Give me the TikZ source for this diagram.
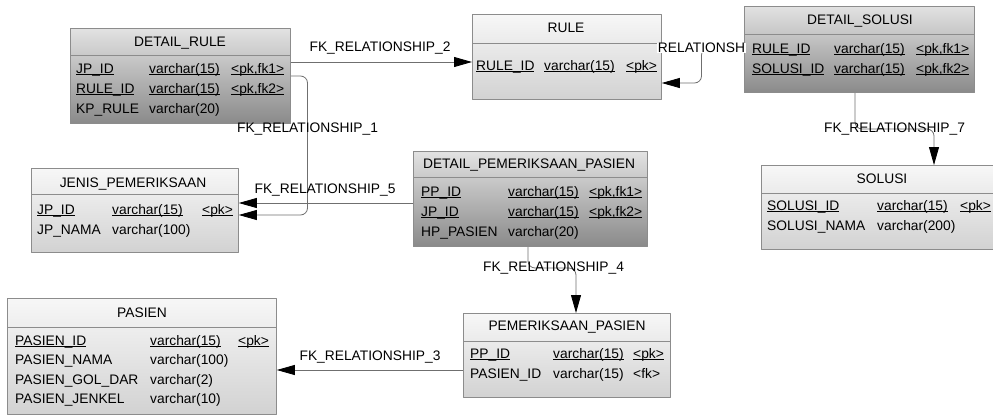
\documentclass[tikz,border=0pt]{standalone}
\usepackage{fontspec}
\setmainfont{Liberation Sans}
\usetikzlibrary{arrows.meta,calc,backgrounds}
\definecolor{boxline}{HTML}{8C8C8C}
\definecolor{ltop}{HTML}{F7F7F7}
\definecolor{lbot}{HTML}{D2D2D2}
\definecolor{dtop}{HTML}{E2E2E2}
\definecolor{dbot}{HTML}{8A8A8A}
\definecolor{linec}{HTML}{6F6F6F}
\newcommand\ulk[1]{\underline{\smash{#1}}}

\begin{document}
\begin{tikzpicture}[x=1pt,y=-1pt,line join=round,
  font=\fontsize{13.8}{16}\selectfont,
  tbl/.style={draw=boxline,line width=0.8pt,top color=ltop,bottom color=lbot,anchor=north west,inner sep=0pt},
  dtbl/.style={tbl,top color=dtop,bottom color=dbot},
  sepline/.style={draw=boxline,line width=0.8pt},
  ttl/.style={anchor=base,inner sep=0pt},
  fld/.style={anchor=base west,inner sep=0pt},
  lbl/.style={inner sep=0pt},
  fk/.style={draw=linec,line width=0.8pt,rounded corners=7pt,-{Triangle[length=18pt,width=10pt,color=black]}}]
\useasboundingbox (0,0) rectangle (993,415);
\clip (0,0) rectangle (993,415);

% DETAIL_RULE
\node[dtbl,minimum width=220pt,minimum height=95pt] (drule) at (70,28) {};
\draw[sepline] ($(drule.north west)+(0,27)$) -- ($(drule.north east)+(0,27)$);
\node[ttl] (drule-t) at (180,46) {DETAIL\_RULE};
\node[fld] (drule-n1) at (76,73) {\ulk{JP\_ID}};
\node[fld] (drule-y1) at (149,73) {\ulk{varchar(15)}};
\node[fld] (drule-k1) at (231,73) {\ulk{<pk,fk1>}};
\node[fld] (drule-n2) at (76,93) {\ulk{RULE\_ID}};
\node[fld] (drule-y2) at (149,93) {\ulk{varchar(15)}};
\node[fld] (drule-k2) at (231,93) {\ulk{<pk,fk2>}};
\node[fld] (drule-n3) at (76,113) {KP\_RULE};
\node[fld] (drule-y3) at (149,113) {varchar(20)};

% RULE
\node[tbl,minimum width=189pt,minimum height=85pt] (rule) at (472,14) {};
\draw[sepline] ($(rule.north west)+(0,29)$) -- ($(rule.north east)+(0,29)$);
\node[ttl] (rule-t) at (566,32) {RULE};
\node[fld] (rule-n1) at (476,70) {\ulk{RULE\_ID}};
\node[fld] (rule-y1) at (544,70) {\ulk{varchar(15)}};
\node[fld] (rule-k1) at (626,70) {\ulk{<pk>}};

% DETAIL_SOLUSI
\node[dtbl,minimum width=230pt,minimum height=86pt] (dsol) at (744,6) {};
\draw[sepline] ($(dsol.north west)+(0,28)$) -- ($(dsol.north east)+(0,28)$);
\node[ttl] (dsol-t) at (860,24) {DETAIL\_SOLUSI};
\node[fld] (dsol-n1) at (752,53) {\ulk{RULE\_ID}};
\node[fld] (dsol-y1) at (834,53) {\ulk{varchar(15)}};
\node[fld] (dsol-k1) at (916,53) {\ulk{<pk,fk1>}};
\node[fld] (dsol-n2) at (752,73) {\ulk{SOLUSI\_ID}};
\node[fld] (dsol-y2) at (834,73) {\ulk{varchar(15)}};
\node[fld] (dsol-k2) at (916,73) {\ulk{<pk,fk2>}};

% JENIS_PEMERIKSAAN
\node[tbl,minimum width=207pt,minimum height=84pt] (jenis) at (31,168) {};
\draw[sepline] ($(jenis.north west)+(0,26)$) -- ($(jenis.north east)+(0,26)$);
\node[ttl] (jenis-t) at (133,187) {JENIS\_PEMERIKSAAN};
\node[fld] (jenis-n1) at (37,214) {\ulk{JP\_ID}};
\node[fld] (jenis-y1) at (112,214) {\ulk{varchar(15)}};
\node[fld] (jenis-k1) at (202,214) {\ulk{<pk>}};
\node[fld] (jenis-n2) at (37,234) {JP\_NAMA};
\node[fld] (jenis-y2) at (112,234) {varchar(100)};

% DETAIL_PEMERIKSAAN_PASIEN
\node[dtbl,minimum width=234pt,minimum height=95pt] (dpp) at (413,151) {};
\draw[sepline] ($(dpp.north west)+(0,26)$) -- ($(dpp.north east)+(0,26)$);
\node[ttl] (dpp-t) at (529,168) {DETAIL\_PEMERIKSAAN\_PASIEN};
\node[fld] (dpp-n1) at (421,196) {\ulk{PP\_ID}};
\node[fld] (dpp-y1) at (508,196) {\ulk{varchar(15)}};
\node[fld] (dpp-k1) at (589,196) {\ulk{<pk,fk1>}};
\node[fld] (dpp-n2) at (421,216) {\ulk{JP\_ID}};
\node[fld] (dpp-y2) at (508,216) {\ulk{varchar(15)}};
\node[fld] (dpp-k2) at (589,216) {\ulk{<pk,fk2>}};
\node[fld] (dpp-n3) at (421,236) {HP\_PASIEN};
\node[fld] (dpp-y3) at (508,236) {varchar(20)};

% SOLUSI
\node[tbl,minimum width=242pt,minimum height=84pt] (solusi) at (761,165) {};
\draw[sepline] ($(solusi.north west)+(0,28)$) -- ($(solusi.north east)+(0,28)$);
\node[ttl] (solusi-t) at (882,183) {SOLUSI};
\node[fld] (solusi-n1) at (767,210) {\ulk{SOLUSI\_ID}};
\node[fld] (solusi-y1) at (877,210) {\ulk{varchar(15)}};
\node[fld] (solusi-k1) at (960,210) {\ulk{<pk>}};
\node[fld] (solusi-n2) at (767,230) {SOLUSI\_NAMA};
\node[fld] (solusi-y2) at (877,230) {varchar(200)};

% PASIEN
\node[tbl,minimum width=269pt,minimum height=116pt] (pasien) at (7,298) {};
\draw[sepline] ($(pasien.north west)+(0,29)$) -- ($(pasien.north east)+(0,29)$);
\node[ttl] (pasien-t) at (142,317) {PASIEN};
\node[fld] (pasien-n1) at (15,345) {\ulk{PASIEN\_ID}};
\node[fld] (pasien-y1) at (150,345) {\ulk{varchar(15)}};
\node[fld] (pasien-k1) at (238,345) {\ulk{<pk>}};
\node[fld] (pasien-n2) at (15,364) {PASIEN\_NAMA};
\node[fld] (pasien-y2) at (150,364) {varchar(100)};
\node[fld] (pasien-n3) at (15,384) {PASIEN\_GOL\_DAR};
\node[fld] (pasien-y3) at (150,384) {varchar(2)};
\node[fld] (pasien-n4) at (15,403) {PASIEN\_JENKEL};
\node[fld] (pasien-y4) at (150,403) {varchar(10)};

% PEMERIKSAAN_PASIEN
\node[tbl,minimum width=207pt,minimum height=84pt] (pp) at (463,313) {};
\draw[sepline] ($(pp.north west)+(0,28)$) -- ($(pp.north east)+(0,28)$);
\node[ttl] (pp-t) at (567,330) {PEMERIKSAAN\_PASIEN};
\node[fld] (pp-n1) at (470,358) {\ulk{PP\_ID}};
\node[fld] (pp-y1) at (553,358) {\ulk{varchar(15)}};
\node[fld] (pp-k1) at (633,358) {\ulk{<pk>}};
\node[fld] (pp-n2) at (470,378) {PASIEN\_ID};
\node[fld] (pp-y2) at (553,378) {varchar(15)};
\node[fld] (pp-k2) at (633,378) {<fk>};

% relationship labels
\node[lbl] (lbl2) at (380,48) {FK\_RELATIONSHIP\_2};
\node[lbl] (lbl1) at (307.5,129) {FK\_RELATIONSHIP\_1};
\node[lbl] (lbl5) at (325,190) {FK\_RELATIONSHIP\_5};
\node[lbl,fill=white,inner sep=0.5pt] (lbl6) at (701.5,48) {RELATIONSH};
\node[lbl] (lbl7) at (894.5,129) {FK\_RELATIONSHIP\_7};
\node[lbl] (lbl4) at (553.5,268) {FK\_RELATIONSHIP\_4};
\node[lbl] (lbl3) at (370,357) {FK\_RELATIONSHIP\_3};

% references
\begin{pgfonlayer}{background}
\draw[fk] ($(drule.north east)+(0,34)$) -- ($(rule.north west)+(0,48)$);
\draw[fk] ($(drule.north east)+(0,48)$) -| (lbl1.center) |- ($(jenis.north east)+(0,47)$);
\draw[fk] ($(dpp.north west)+(0,52)$) -- ($(jenis.north east)+(0,35)$);
\draw[fk] (dsol.west |- lbl6.center) -- (lbl6.center) |- ($(rule.north east)+(0,69)$);
\draw[fk] ($(dsol.south west)+(111,0)$) |- (lbl7.center) -| ($(solusi.north west)+(173,0)$);
\draw[fk] ($(dpp.south west)+(115,0)$) |- (lbl4.center) -| ($(pp.north west)+(113,0)$);
\draw[fk] ($(pp.north west)+(0,57)$) -- ($(pasien.north east)+(0,72)$);
\end{pgfonlayer}
\end{tikzpicture}
\end{document}
